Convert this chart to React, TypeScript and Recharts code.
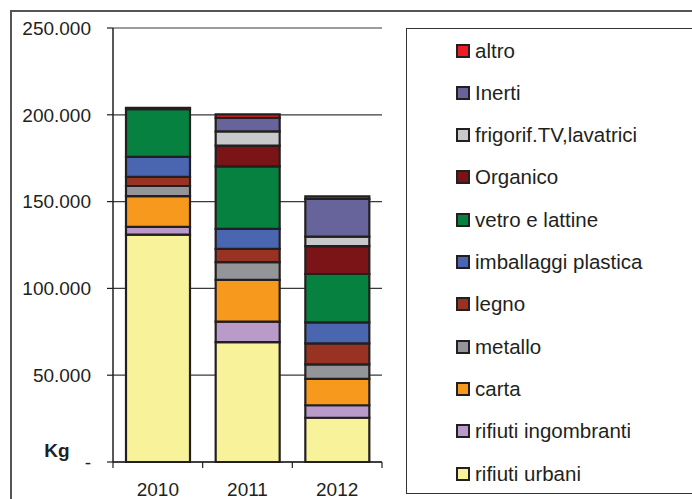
import React from 'react';
import { BarChart, Bar, XAxis, YAxis, CartesianGrid } from 'recharts';

const years = ['2010', '2011', '2012'];

const rifiutiUrbani = [131000, 69000, 25500];
const rifiutiIngombranti = [4400, 11900, 7200];
const carta = [17800, 24000, 15200];
const metallo = [5800, 10200, 8300];
const legno = [5200, 7700, 12100];
const imballaggiPlastica = [11600, 11500, 12100];
const vetroLattine = [27500, 36000, 27900];
const organico = [0, 11900, 16100];
const frigorif = [0, 8300, 5400];
const inerti = [700, 7700, 21700];
const altro = [0, 2000, 1500];

const yTicks = [0, 50000, 100000, 150000, 200000, 250000];

const series = [
  { key: 'urbani', name: 'rifiuti urbani', values: rifiutiUrbani, color: '#f8f39b' },
  { key: 'ingombranti', name: 'rifiuti ingombranti', values: rifiutiIngombranti, color: '#b99ac8' },
  { key: 'carta', name: 'carta', values: carta, color: '#f7991c' },
  { key: 'metallo', name: 'metallo', values: metallo, color: '#939598' },
  { key: 'legno', name: 'legno', values: legno, color: '#983222' },
  { key: 'plastica', name: 'imballaggi plastica', values: imballaggiPlastica, color: '#4a66b0' },
  { key: 'vetro', name: 'vetro e lattine', values: vetroLattine, color: '#068140' },
  { key: 'organico', name: 'Organico', values: organico, color: '#7b1416' },
  { key: 'frigo', name: 'frigorif.TV,lavatrici', values: frigorif, color: '#c8c9ca' },
  { key: 'inerti', name: 'Inerti', values: inerti, color: '#66649a' },
  { key: 'altro', name: 'altro', values: altro, color: '#ec1c24' },
];

const data = years.map((y, i) => {
  const row: Record<string, string | number> = { year: y };
  series.forEach((s) => {
    row[s.key] = s.values[i];
  });
  return row;
});

const FONT = '"Liberation Sans", Arial, sans-serif';
const INK = '#231f20';

const fmt = (v: number) =>
  v === 0 ? '-' : String(v).replace(/\B(?=(\d{3})+(?!\d))/g, '.');

const X_TICK_SIZE = 6;
const X_TICK_MARGIN = 15;

const XTick = (props: any) => {
  const { x, y, payload, index, visibleTicksCount } = props;
  const off = payload && payload.offset != null ? payload.offset : 44.7;
  const axisY = y - X_TICK_SIZE - X_TICK_MARGIN;
  return (
    <g>
      <line x1={x - off} x2={x - off} y1={axisY} y2={axisY + X_TICK_SIZE} stroke={INK} strokeWidth={1.2} />
      {index === visibleTicksCount - 1 && (
        <line x1={x + off} x2={x + off} y1={axisY} y2={axisY + X_TICK_SIZE} stroke={INK} strokeWidth={1.2} />
      )}
      <text x={x} y={y} dy="0.71em" textAnchor="middle" fill={INK} fontSize={19} fontFamily={FONT}>
        {payload.value}
      </text>
    </g>
  );
};

export default function App() {
  const legendItems = [...series].reverse();
  return (
    <div style={{ position: 'absolute', left: 0, top: 0, width: 692, height: 499, overflow: 'hidden', background: '#fff', fontFamily: FONT }}>
      <div
        style={{
          position: 'absolute',
          left: 10,
          top: 10,
          width: 720,
          height: 520,
          borderLeft: '2px solid #555',
          borderTop: '2px solid #555',
        }}
      />
      <div style={{ position: 'absolute', left: 0, top: 0 }}>
        <BarChart
          width={692}
          height={499}
          data={data}
          margin={{ top: 28, right: 310, bottom: 7, left: 0 }}
          barCategoryGap="14.5%"
        >
          <CartesianGrid vertical={false} stroke="#3a3a3a" strokeWidth={1.2} />
          <XAxis
            dataKey="year"
            height={30}
            tickLine={false}
            tickSize={X_TICK_SIZE}
            tickMargin={X_TICK_MARGIN}
            axisLine={{ stroke: INK, strokeWidth: 1.5 }}
            tick={<XTick />}
            interval={0}
          />
          <YAxis
            width={113}
            domain={[0, 250000]}
            ticks={yTicks}
            interval={0}
            tickFormatter={fmt}
            tickSize={6}
            tickMargin={16}
            tickLine={{ stroke: INK, strokeWidth: 1.2 }}
            axisLine={{ stroke: INK, strokeWidth: 1.5 }}
            tick={{ fill: INK, fontSize: 19, fontFamily: FONT }}
          />
          <YAxis
            yAxisId="right"
            orientation="right"
            width={0}
            domain={[0, 250000]}
            tick={false}
            tickLine={false}
            axisLine={{ stroke: '#8a8a8a', strokeWidth: 1.5 }}
          />
          {series.map((s) => (
            <Bar
              key={s.key}
              dataKey={s.key}
              name={s.name}
              stackId="a"
              fill={s.color}
              stroke={INK}
              strokeWidth={2.2}
              isAnimationActive={false}
            />
          ))}
        </BarChart>
      </div>
      <div
        style={{
          position: 'absolute',
          left: 32,
          top: 441,
          width: 50,
          fontSize: 19,
          fontWeight: 'bold',
          lineHeight: 1,
          color: INK,
          textAlign: 'center',
        }}
      >
        Kg
      </div>
      <div
        style={{
          position: 'absolute',
          left: 406,
          top: 28,
          width: 320,
          height: 466,
          border: '1.5px solid #333',
          boxSizing: 'border-box',
        }}
      >
        {legendItems.map((s, i) => (
          <div
            key={s.key}
            style={{
              position: 'absolute',
              left: 49,
              top: 21.5 + i * 42.3 - 12,
              height: 24,
              display: 'flex',
              alignItems: 'center',
              whiteSpace: 'nowrap',
            }}
          >
            <div
              style={{
                width: 14,
                height: 14,
                boxSizing: 'border-box',
                border: `2px solid ${INK}`,
                background: s.color,
                marginRight: 5,
              }}
            />
            <span style={{ fontSize: 20.5, color: INK, lineHeight: '24px' }}>{s.name}</span>
          </div>
        ))}
      </div>
    </div>
  );
}
